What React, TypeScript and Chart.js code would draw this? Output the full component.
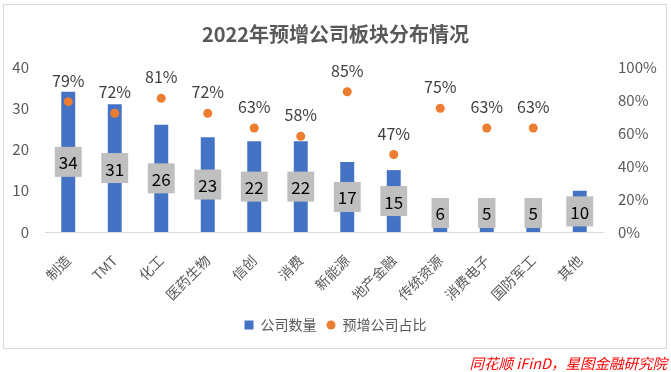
import React, { useEffect, useRef } from "react";
import { Chart, registerables } from "chart.js";

Chart.register(...registerables);

const categories = ["制造", "TMT", "化工", "医药生物", "信创", "消费", "新能源", "地产金融", "传统资源", "消费电子", "国防军工", "其他"];
const companyCounts = [34, 31, 26, 23, 22, 22, 17, 15, 6, 5, 5, 10];
const ratioPercents = [79, 72, 81, 72, 63, 58, 85, 47, 75, 63, 63, null];
const leftTicks = [0, 10, 20, 30, 40];
const rightTicks = [0, 20, 40, 60, 80, 100];

const FONT = '"Noto Sans CJK SC", "Noto Sans", sans-serif';
const BLUE = "#4472C4";
const ORANGE = "#ED7D31";
const GREY_TEXT = "#595959";

function makeIcon(kind: "rect" | "circle", color: string) {
  const c = document.createElement("canvas");
  c.width = 10;
  c.height = 10;
  const g = c.getContext("2d")!;
  g.fillStyle = color;
  if (kind === "rect") {
    g.fillRect(0.5, 0.5, 9, 9);
  } else {
    g.beginPath();
    g.arc(5, 5, 4.5, 0, Math.PI * 2);
    g.fill();
  }
  return c;
}

const labelPlugin = {
  id: "valueLabels",
  afterDatasetsDraw(chart: any) {
    const ctx = chart.ctx;
    const barMeta = chart.getDatasetMeta(0);
    ctx.save();
    ctx.font = `17px ${FONT}`;
    ctx.textAlign = "center";
    ctx.textBaseline = "middle";
    barMeta.data.forEach((el: any, i: number) => {
      const txt = String(companyCounts[i]);
      const mid = (el.y + el.base) / 2;
      const h = 30;
      const cy = Math.min(mid, el.base - 4 - h / 2);
      const w = ctx.measureText(txt).width + 8;
      ctx.fillStyle = "#BFBFBF";
      ctx.fillRect(el.x - w / 2, cy - h / 2, w, h);
      ctx.fillStyle = "#000000";
      ctx.fillText(txt, el.x, cy + 1);
    });
    const ptMeta = chart.getDatasetMeta(1);
    ctx.font = `16px ${FONT}`;
    ctx.fillStyle = "#404040";
    ptMeta.data.forEach((el: any, i: number) => {
      const v = ratioPercents[i];
      if (v === null || v === undefined) return;
      ctx.fillText(`${v}%`, el.x, el.y - 21);
    });
    ctx.restore();
  },
};

export default function App() {
  const ref = useRef<HTMLCanvasElement>(null);
  useEffect(() => {
    const canvas = ref.current!;
    const rectIcon = makeIcon("rect", BLUE);
    const circleIcon = makeIcon("circle", ORANGE);
    const chart = new Chart(canvas, {
      type: "bar",
      data: {
        labels: categories,
        datasets: [
          {
            type: "bar",
            label: "公司数量",
            data: companyCounts,
            backgroundColor: BLUE,
            yAxisID: "y",
            barPercentage: 0.3,
            categoryPercentage: 1,
            order: 2,
          },
          {
            type: "line",
            label: "预增公司占比",
            data: ratioPercents.map((v) => (v === null ? null : v / 100)),
            showLine: false,
            pointRadius: 4.5,
            pointBackgroundColor: ORANGE,
            pointBorderColor: ORANGE,
            pointBorderWidth: 0,
            backgroundColor: ORANGE,
            borderColor: ORANGE,
            yAxisID: "y1",
            order: 1,
          } as any,
        ],
      },
      options: {
        responsive: false,
        animation: false,
        devicePixelRatio: 1,
        layout: { padding: { left: 0, right: 0, top: 0, bottom: 30 } },
        plugins: {
          tooltip: { enabled: false },
          title: {
            display: true,
            text: "2022年预增公司板块分布情况",
            color: GREY_TEXT,
            font: { family: FONT, size: 20, weight: "bold" },
            padding: { top: 22, bottom: 21 },
          },
          legend: {
            display: true,
            position: "bottom",
            labels: {
              color: GREY_TEXT,
              font: { family: FONT, size: 14 },
              usePointStyle: true,
              boxWidth: 9,
              boxHeight: 9,
              padding: 10,
              generateLabels: () => [
                { text: "公司数量", pointStyle: rectIcon, fillStyle: BLUE, strokeStyle: BLUE, lineWidth: 0, hidden: false, datasetIndex: 0, fontColor: GREY_TEXT },
                { text: "预增公司占比", pointStyle: circleIcon, fillStyle: ORANGE, strokeStyle: ORANGE, lineWidth: 0, hidden: false, datasetIndex: 1, fontColor: GREY_TEXT },
              ] as any,
            },
          },
        },
        scales: {
          x: {
            offset: true,
            grid: { display: false, drawTicks: false },
            border: { display: true, color: "#D9D9D9", width: 1 },
            ticks: {
              color: GREY_TEXT,
              font: { family: FONT, size: 14 },
              minRotation: 45,
              maxRotation: 45,
              padding: 20,
              autoSkip: false,
            },
            afterFit: (s: any) => {
              s.height = 76;
            },
          },
          y: {
            position: "left",
            min: 0,
            max: 40,
            grid: { display: false, drawTicks: false },
            border: { display: false },
            afterBuildTicks: (s: any) => {
              s.ticks = leftTicks.map((v) => ({ value: v }));
            },
            ticks: {
              color: GREY_TEXT,
              font: { family: FONT, size: 15 },
              padding: 16,
            },
            afterFit: (s: any) => {
              s.width = 45;
            },
          },
          y1: {
            position: "right",
            min: 0,
            max: 1,
            grid: { display: false, drawTicks: false },
            border: { display: false },
            afterBuildTicks: (s: any) => {
              s.ticks = rightTicks.map((v) => ({ value: v / 100 }));
            },
            ticks: {
              color: GREY_TEXT,
              font: { family: FONT, size: 15 },
              padding: 15,
              callback: (v: any) => `${Math.round(Number(v) * 100)}%`,
            },
            afterFit: (s: any) => {
              s.width = 68;
            },
          },
        },
      },
      plugins: [labelPlugin],
    });
    return () => chart.destroy();
  }, []);

  return (
    <div style={{ position: "absolute", left: 0, top: 0, width: 671, height: 372, background: "#fff", overflow: "hidden" }}>
      <canvas ref={ref} width={671} height={372} style={{ position: "absolute", left: 0, top: 0, width: 671, height: 372 }} />
      <div
        style={{
          position: "absolute",
          left: 3,
          top: 4,
          width: 664,
          height: 345,
          border: "1px solid #D9D9D9",
          boxSizing: "border-box",
          pointerEvents: "none",
        }}
      />
      <span
        style={{
          position: "absolute",
          right: 4,
          top: 354,
          lineHeight: "18px",
          fontSize: 14.5,
          fontStyle: "italic",
          color: "#FF0000",
          fontFamily: FONT,
          whiteSpace: "nowrap",
        }}
      >
        同花顺 iFinD，星图金融研究院
      </span>
    </div>
  );
}
